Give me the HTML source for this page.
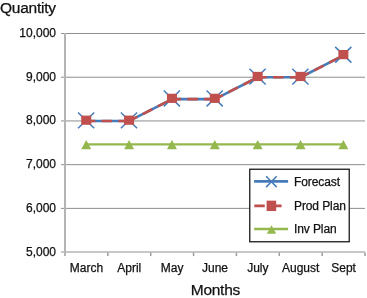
<!DOCTYPE html><html><head><meta charset="utf-8"><style>
html,body{margin:0;padding:0;background:#fff;width:367px;height:298px;overflow:hidden}
svg{display:block;font-family:"Liberation Sans",sans-serif;will-change:transform}text{stroke:#111;stroke-width:0.25px}
</style></head><body>
<svg width="367" height="298" viewBox="0 0 367 298">
<line x1="61" y1="33.50" x2="365" y2="33.50" stroke="#8e8e8e" stroke-width="1"/>
<line x1="61" y1="77.22" x2="365" y2="77.22" stroke="#8e8e8e" stroke-width="1"/>
<line x1="61" y1="120.94" x2="365" y2="120.94" stroke="#8e8e8e" stroke-width="1"/>
<line x1="61" y1="164.66" x2="365" y2="164.66" stroke="#8e8e8e" stroke-width="1"/>
<line x1="61" y1="208.38" x2="365" y2="208.38" stroke="#8e8e8e" stroke-width="1"/>
<line x1="61" y1="252.10" x2="365" y2="252.10" stroke="#b4b4b4" stroke-width="1.5"/>
<line x1="65.0" y1="33.00" x2="65.0" y2="256.10" stroke="#b4b4b4" stroke-width="2"/>
<line x1="107.86" y1="252.60" x2="107.86" y2="256.10" stroke="#9c9c9c" stroke-width="1.5"/>
<line x1="150.71" y1="252.60" x2="150.71" y2="256.10" stroke="#9c9c9c" stroke-width="1.5"/>
<line x1="193.57" y1="252.60" x2="193.57" y2="256.10" stroke="#9c9c9c" stroke-width="1.5"/>
<line x1="236.43" y1="252.60" x2="236.43" y2="256.10" stroke="#9c9c9c" stroke-width="1.5"/>
<line x1="279.29" y1="252.60" x2="279.29" y2="256.10" stroke="#9c9c9c" stroke-width="1.5"/>
<line x1="322.14" y1="252.60" x2="322.14" y2="256.10" stroke="#9c9c9c" stroke-width="1.5"/>
<line x1="365.00" y1="252.60" x2="365.00" y2="256.10" stroke="#9c9c9c" stroke-width="1.5"/>
<text x="56" y="37.00" font-size="12" text-anchor="end" fill="#111">10,000</text>
<text x="56" y="80.72" font-size="12" text-anchor="end" fill="#111">9,000</text>
<text x="56" y="124.44" font-size="12" text-anchor="end" fill="#111">8,000</text>
<text x="56" y="168.16" font-size="12" text-anchor="end" fill="#111">7,000</text>
<text x="56" y="211.88" font-size="12" text-anchor="end" fill="#111">6,000</text>
<text x="56" y="255.60" font-size="12" text-anchor="end" fill="#111">5,000</text>
<text x="86.43" y="272.2" font-size="12" text-anchor="middle" fill="#111">March</text>
<text x="129.29" y="272.2" font-size="12" text-anchor="middle" fill="#111">April</text>
<text x="172.14" y="272.2" font-size="12" text-anchor="middle" fill="#111">May</text>
<text x="215.00" y="272.2" font-size="12" text-anchor="middle" fill="#111">June</text>
<text x="257.86" y="272.2" font-size="12" text-anchor="middle" fill="#111">July</text>
<text x="300.71" y="272.2" font-size="12" text-anchor="middle" fill="#111">August</text>
<text x="343.57" y="272.2" font-size="12" text-anchor="middle" fill="#111">Sept</text>
<text x="0" y="12.9" font-size="15.5" letter-spacing="-0.25" fill="#111">Quantity</text>
<text x="215.4" y="294.8" font-size="15.5" letter-spacing="-0.25" text-anchor="middle" fill="#111">Months</text>
<polyline points="86.43,120.94 129.29,120.94 172.14,99.08 215.00,99.08 257.86,77.22 300.71,77.22 343.57,55.36" fill="none" stroke="#467bb9" stroke-width="2.6" stroke-linejoin="round"/>
<path d="M84.83,120.94L129.29,120.94" fill="none" stroke="#c0504d" stroke-width="2.6" stroke-dasharray="10.5 6.3"/>
<path d="M127.86,121.67L172.14,99.08" fill="none" stroke="#c0504d" stroke-width="2.6" stroke-dasharray="10.5 6.3"/>
<path d="M170.54,99.08L215.00,99.08" fill="none" stroke="#c0504d" stroke-width="2.6" stroke-dasharray="10.5 6.3"/>
<path d="M213.57,99.81L257.86,77.22" fill="none" stroke="#c0504d" stroke-width="2.6" stroke-dasharray="10.5 6.3"/>
<path d="M256.26,77.22L300.71,77.22" fill="none" stroke="#c0504d" stroke-width="2.6" stroke-dasharray="10.5 6.3"/>
<path d="M299.29,77.95L343.57,55.36" fill="none" stroke="#c0504d" stroke-width="2.6" stroke-dasharray="10.5 6.3"/>
<polyline points="86.43,144.35 129.29,144.35 172.14,144.35 215.00,144.35 257.86,144.35 300.71,144.35 343.57,144.35" fill="none" stroke="#94b84e" stroke-width="2.4"/>
<path d="M78.03,112.44L94.23,128.24M78.03,128.24L94.23,112.44" stroke="#467bb9" stroke-width="1.5" fill="none"/>
<path d="M120.89,112.44L137.09,128.24M120.89,128.24L137.09,112.44" stroke="#467bb9" stroke-width="1.5" fill="none"/>
<path d="M163.74,90.58L179.94,106.38M163.74,106.38L179.94,90.58" stroke="#467bb9" stroke-width="1.5" fill="none"/>
<path d="M206.60,90.58L222.80,106.38M206.60,106.38L222.80,90.58" stroke="#467bb9" stroke-width="1.5" fill="none"/>
<path d="M249.46,68.72L265.66,84.52M249.46,84.52L265.66,68.72" stroke="#467bb9" stroke-width="1.5" fill="none"/>
<path d="M292.31,68.72L308.51,84.52M292.31,84.52L308.51,68.72" stroke="#467bb9" stroke-width="1.5" fill="none"/>
<path d="M335.17,46.86L351.37,62.66M335.17,62.66L351.37,46.86" stroke="#467bb9" stroke-width="1.5" fill="none"/>
<rect x="81.23" y="115.59" width="10.0" height="9.2" fill="#c0504d"/>
<rect x="124.09" y="115.59" width="10.0" height="9.2" fill="#c0504d"/>
<rect x="166.94" y="93.73" width="10.0" height="9.2" fill="#c0504d"/>
<rect x="209.80" y="93.73" width="10.0" height="9.2" fill="#c0504d"/>
<rect x="252.66" y="71.87" width="10.0" height="9.2" fill="#c0504d"/>
<rect x="295.51" y="71.87" width="10.0" height="9.2" fill="#c0504d"/>
<rect x="338.37" y="50.01" width="10.0" height="9.2" fill="#c0504d"/>
<path d="M86.23,140.00L91.23,149.20L81.23,149.20Z" fill="#94b84e"/>
<path d="M129.09,140.00L134.09,149.20L124.09,149.20Z" fill="#94b84e"/>
<path d="M171.94,140.00L176.94,149.20L166.94,149.20Z" fill="#94b84e"/>
<path d="M214.80,140.00L219.80,149.20L209.80,149.20Z" fill="#94b84e"/>
<path d="M257.66,140.00L262.66,149.20L252.66,149.20Z" fill="#94b84e"/>
<path d="M300.51,140.00L305.51,149.20L295.51,149.20Z" fill="#94b84e"/>
<path d="M343.37,140.00L348.37,149.20L338.37,149.20Z" fill="#94b84e"/>
<rect x="249.75" y="169.25" width="99.5" height="72.5" fill="#fff" stroke="#222" stroke-width="1.35"/>
<line x1="254.1" y1="181.4" x2="288.1" y2="181.4" stroke="#467bb9" stroke-width="2.6"/>
<path d="M266.10,176.30L276.70,187.10M266.10,187.10L276.70,176.30" stroke="#467bb9" stroke-width="1.5" fill="none"/>
<line x1="254.3" y1="205.9" x2="287.8" y2="205.9" stroke="#c0504d" stroke-width="2.6" stroke-dasharray="10.5 6.3"/>
<rect x="266.60" y="200.65" width="9.6" height="10.4" fill="#c0504d"/>
<line x1="254.1" y1="229.0" x2="288.1" y2="229.0" stroke="#94b84e" stroke-width="2.6"/>
<path d="M271.50,225.30L276.20,233.70L266.80,233.70Z" fill="#94b84e"/>
<text x="294" y="186.0" font-size="12" letter-spacing="-0.1" fill="#111">Forecast</text>
<text x="294" y="209.7" font-size="12" letter-spacing="-0.1" fill="#111">Prod Plan</text>
<text x="294" y="233.4" font-size="12" letter-spacing="-0.1" fill="#111">Inv Plan</text>
</svg></body></html>
